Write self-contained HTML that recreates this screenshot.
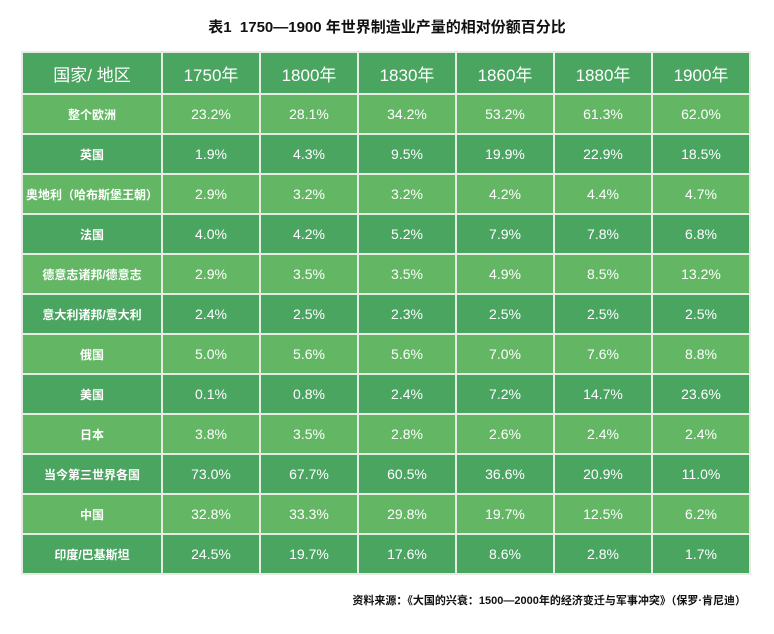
<!DOCTYPE html>
<html><head><meta charset="utf-8"><style>
body{margin:0;width:774px;height:634px;background:#fff;position:relative;font-family:"Liberation Sans","Noto Sans CJK SC",sans-serif;}
.t{position:absolute;top:16px;left:0;width:774px;text-align:center;font-weight:bold;font-size:15px;color:#111;}
table{position:absolute;left:21px;top:51px;border-collapse:collapse;}
td{border:2px solid #e4ece4;color:#fff;text-align:center;padding:0;font-size:14px;height:38px;width:96px;}
td:first-child{width:138px;font-weight:bold;font-size:12px;}
tr.h td{height:40px;font-size:17px;font-weight:normal;background:#4aa561;}
tr.d td{background:#4aa561;}
tr.l td{background:#63b764;}
.f{position:absolute;top:592px;right:28px;font-size:11px;font-weight:bold;color:#111;}
</style></head><body>
<div class="t">表1&nbsp; 1750—1900 年世界制造业产量的相对份额百分比</div>
<table>
<tr class="h"><td style="font-weight:normal;font-size:17px">国家/ 地区</td><td>1750年</td><td>1800年</td><td>1830年</td><td>1860年</td><td>1880年</td><td>1900年</td></tr>
<tr class="l"><td>整个欧洲</td><td>23.2%</td><td>28.1%</td><td>34.2%</td><td>53.2%</td><td>61.3%</td><td>62.0%</td></tr>
<tr class="d"><td>英国</td><td>1.9%</td><td>4.3%</td><td>9.5%</td><td>19.9%</td><td>22.9%</td><td>18.5%</td></tr>
<tr class="l"><td>奥地利（哈布斯堡王朝）</td><td>2.9%</td><td>3.2%</td><td>3.2%</td><td>4.2%</td><td>4.4%</td><td>4.7%</td></tr>
<tr class="d"><td>法国</td><td>4.0%</td><td>4.2%</td><td>5.2%</td><td>7.9%</td><td>7.8%</td><td>6.8%</td></tr>
<tr class="l"><td>德意志诸邦/德意志</td><td>2.9%</td><td>3.5%</td><td>3.5%</td><td>4.9%</td><td>8.5%</td><td>13.2%</td></tr>
<tr class="d"><td>意大利诸邦/意大利</td><td>2.4%</td><td>2.5%</td><td>2.3%</td><td>2.5%</td><td>2.5%</td><td>2.5%</td></tr>
<tr class="l"><td>俄国</td><td>5.0%</td><td>5.6%</td><td>5.6%</td><td>7.0%</td><td>7.6%</td><td>8.8%</td></tr>
<tr class="d"><td>美国</td><td>0.1%</td><td>0.8%</td><td>2.4%</td><td>7.2%</td><td>14.7%</td><td>23.6%</td></tr>
<tr class="l"><td>日本</td><td>3.8%</td><td>3.5%</td><td>2.8%</td><td>2.6%</td><td>2.4%</td><td>2.4%</td></tr>
<tr class="d"><td>当今第三世界各国</td><td>73.0%</td><td>67.7%</td><td>60.5%</td><td>36.6%</td><td>20.9%</td><td>11.0%</td></tr>
<tr class="l"><td>中国</td><td>32.8%</td><td>33.3%</td><td>29.8%</td><td>19.7%</td><td>12.5%</td><td>6.2%</td></tr>
<tr class="d"><td>印度/巴基斯坦</td><td>24.5%</td><td>19.7%</td><td>17.6%</td><td>8.6%</td><td>2.8%</td><td>1.7%</td></tr>
</table>
<div class="f">资料来源：《大国的兴衰：1500—2000年的经济变迁与军事冲突》（保罗·肯尼迪）</div>
</body></html>
